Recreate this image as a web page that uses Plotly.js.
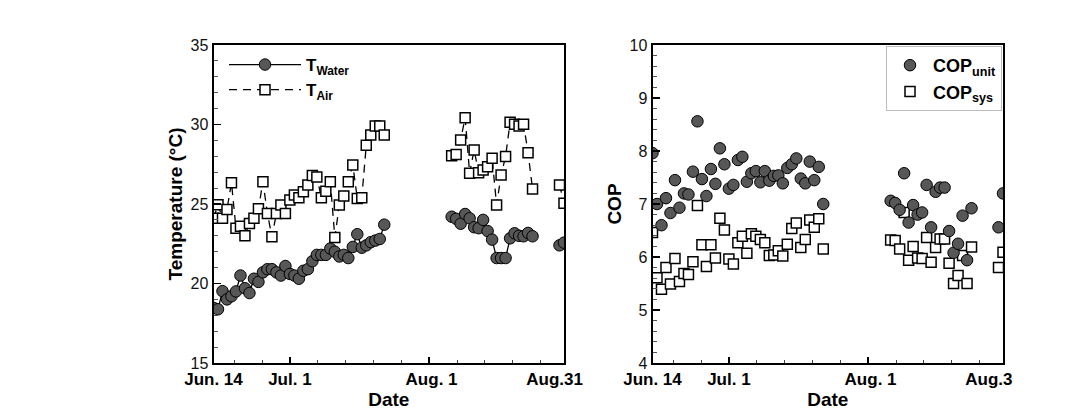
<!DOCTYPE html>
<html>
<head>
<meta charset="utf-8">
<script src="https://cdn.plot.ly/plotly-3.0.1.min.js"></script>
<style>html,body{margin:0;padding:0;background:#fff;}#chart{width:1084px;height:419px;}</style>
</head>
<body>
<div id="chart"></div>
<script>
// Day offsets from Jun. 14 (null = gap in record)
var day = [0,1,2,3,4,5,6,7,8,9,10,11,12,13,14,15,16,17,18,19,20,21,22,23,24,25,26,27,28,29,30,31,32,33,34,35,36,37,38,
  null,
  53,54,55,56,57,58,59,60,61,62,63,64,65,66,67,68,69,70,71,
  null,
  77,78];

var tWater = [18.47,18.38,19.52,19.0,19.2,19.5,20.5,19.7,19.4,20.3,20.1,20.7,20.9,20.9,20.7,20.5,21.1,20.6,20.5,20.3,20.8,20.9,21.4,21.8,21.8,21.8,22.2,22.0,21.7,21.8,21.6,22.3,23.1,22.25,22.4,22.6,22.7,22.8,23.7,
  null,
  24.2,24.07,23.76,24.37,24.1,23.54,23.48,24.0,23.3,22.76,21.6,21.6,21.6,22.84,23.16,23.0,22.97,23.18,22.97,
  null,
  22.4,22.57];

var tAir = [24.1,24.95,24.1,24.66,26.34,23.47,23.6,23.0,23.78,24.1,24.7,26.4,24.4,22.94,24.4,24.93,24.4,25.25,25.56,25.4,25.77,26.19,26.8,26.7,25.4,25.8,26.4,22.9,24.93,25.5,26.4,27.45,25.35,25.4,28.7,29.34,29.9,29.9,29.34,
  null,
  28.04,28.12,29.03,30.43,26.93,28.4,26.97,27.14,27.35,27.87,24.94,26.82,27.98,30.14,30.01,29.9,30.01,28.23,25.94,
  null,
  26.2,25.04];

var copUnit = [7.96,7.0,6.6,7.11,6.83,7.45,6.93,7.2,7.18,7.61,8.56,7.47,7.15,7.66,7.38,8.05,7.75,7.29,7.36,7.83,7.89,7.42,7.58,7.62,7.41,7.62,7.44,7.53,7.54,7.39,7.68,7.75,7.86,7.48,7.39,7.8,7.45,7.7,7.0,
  null,
  7.06,7.02,6.89,7.58,6.65,6.98,6.8,6.84,7.36,6.56,7.23,7.31,7.31,6.49,6.08,6.25,6.78,5.94,6.92,
  null,
  6.56,7.2];

var copSys = [6.46,5.61,5.39,5.8,5.49,5.97,5.54,5.69,5.67,5.91,6.97,6.23,5.82,6.23,5.98,6.73,6.51,5.96,5.87,6.27,6.39,6.07,6.44,6.39,6.33,6.27,6.03,6.04,6.12,6.02,6.24,6.54,6.64,6.18,6.33,6.7,6.56,6.72,6.15,
  null,
  6.32,6.31,6.15,6.84,5.94,6.2,5.98,5.97,6.37,5.9,6.18,6.34,6.34,5.88,5.5,5.65,6.03,5.5,6.19,
  null,
  5.8,6.09];

var NB = '\u00a0';
var dateTickVals = [0, 17, 48, 78];
var dateTickTextL = ['Jun. 14', 'Jul. 1', NB + 'Aug. 1', 'Aug.31' + NB+NB+NB+NB];
var dateTickTextR = ['Jun. 14', 'Jul. 1', NB + 'Aug. 1', 'Aug.3' + NB+NB+NB+NB+NB+NB];

var FONT = 'Arial, "Liberation Sans", sans-serif';
var circleFill = '#575757';

var traces = [
  {x: day, y: tWater, xaxis: 'x', yaxis: 'y', type: 'scatter', mode: 'lines+markers',
   name: 'T<sub>Water</sub>', legend: 'legend',
   line: {color: '#000', width: 1.3},
   marker: {symbol: 'circle', size: 11.5, color: circleFill, line: {color: '#000', width: 1}}},
  {x: day, y: tAir, xaxis: 'x', yaxis: 'y', type: 'scatter', mode: 'lines+markers',
   name: 'T<sub>Air</sub>', legend: 'legend',
   line: {color: '#000', width: 1.3, dash: '8px,6px'},
   marker: {symbol: 'square', size: 10, color: '#fff', line: {color: '#000', width: 1.5}}},
  {x: day, y: copSys, xaxis: 'x2', yaxis: 'y2', type: 'scatter', mode: 'markers',
   name: 'COP<sub>sys</sub>', legend: 'legend2', legendrank: 2,
   marker: {symbol: 'square', size: 10, color: '#fff', line: {color: '#000', width: 1.5}}},
  {x: day, y: copUnit, xaxis: 'x2', yaxis: 'y2', type: 'scatter', mode: 'markers',
   name: 'COP<sub>unit</sub>', legend: 'legend2', legendrank: 1,
   marker: {symbol: 'circle', size: 11.5, color: circleFill, line: {color: '#000', width: 1}}}
];

function xAxis(domain, ticktext, anchor) {
  return {
    domain: domain, anchor: anchor, range: [0, 78],
    tickmode: 'array', tickvals: dateTickVals, ticktext: ticktext,
    ticks: 'inside', ticklen: 6, tickwidth: 1.5, tickcolor: '#000',
    minor: {tickmode: 'linear', tick0: 17, dtick: 6.2, ticks: 'inside', ticklen: 3, tickwidth: 1, tickcolor: '#444'},
    showline: true, linecolor: '#000', linewidth: 2, mirror: true,
    showgrid: false, zeroline: false,
    tickfont: {family: FONT, size: 17, weight: 'bold', color: '#000'},
    title: {text: 'Date', font: {family: FONT, size: 19, weight: 'bold', color: '#000'}, standoff: 4}
  };
}
function yAxis(domain, range, dtick, mdtick, title, anchor) {
  return {
    domain: domain, anchor: anchor, range: range,
    tickmode: 'linear', tick0: range[0], dtick: dtick,
    ticks: 'inside', ticklen: 7, tickwidth: 1.5, tickcolor: '#000',
    minor: {tickmode: 'linear', tick0: range[0], dtick: mdtick, ticks: 'inside', ticklen: 4, tickwidth: 1, tickcolor: '#555'},
    showline: true, linecolor: '#000', linewidth: 2, mirror: true,
    showgrid: false, zeroline: false,
    tickfont: {family: FONT, size: 16, color: '#111'},
    title: {text: title, font: {family: FONT, size: 19, weight: 'bold', color: '#000'}, standoff: 3}
  };
}

var yDom = [56/419, 374/419];
var layout = {
  width: 1084, height: 419,
  margin: {l: 0, r: 0, t: 0, b: 0},
  paper_bgcolor: '#fff', plot_bgcolor: '#fff',
  font: {family: FONT, color: '#000'},
  showlegend: true,
  xaxis: xAxis([213.5/1084, 564/1084], dateTickTextL, 'y'),
  yaxis: yAxis(yDom, [15, 35], 5, 1, 'Temperature (°C)', 'x'),
  xaxis2: xAxis([652.5/1084, 1003/1084], dateTickTextR, 'y2'),
  yaxis2: yAxis(yDom, [4, 10], 1, 0.2, 'COP', 'x2'),
  legend: {
    x: 224/1084, y: 1 - 47/419, xanchor: 'left', yanchor: 'top',
    bgcolor: 'rgba(0,0,0,0)', borderwidth: 0, itemwidth: 72,
    font: {family: FONT, size: 17, weight: 'bold', color: '#000'},
    traceorder: 'normal'
  },
  legend2: {
    x: 1002/1084, y: 1 - 46/419, xanchor: 'right', yanchor: 'top',
    bgcolor: '#fff', bordercolor: '#bbb', borderwidth: 1, itemwidth: 36,
    font: {family: FONT, size: 18, weight: 'bold', color: '#000'}
  }
};

Plotly.newPlot('chart', traces, layout, {displayModeBar: false, staticPlot: true});
</script>
</body>
</html>
